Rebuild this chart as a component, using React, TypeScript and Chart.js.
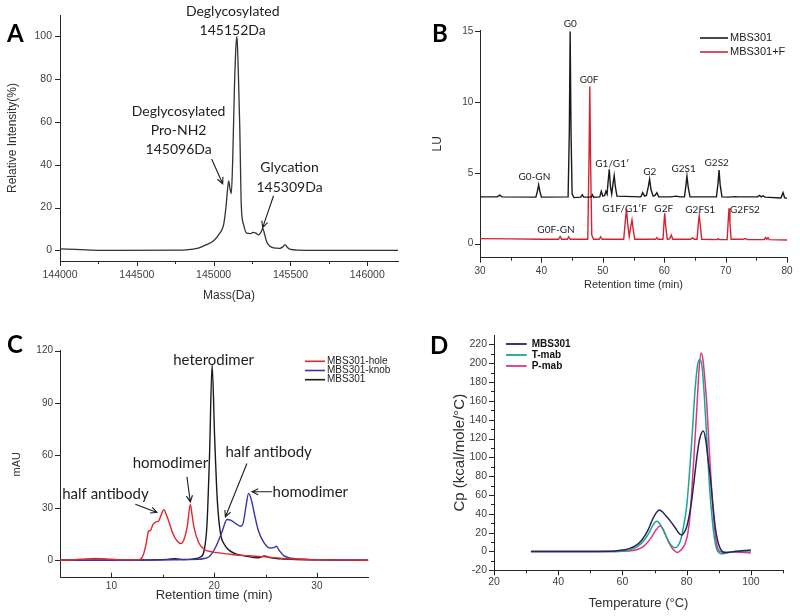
import React, { useEffect, useRef } from "react";
import { Chart, registerables } from "chart.js";

Chart.register(...registerables);

const SANS = "'Liberation Sans', Arial, sans-serif";
const LATO = "Lato, 'Open Sans', sans-serif";
const AXIS = "#262626";
const TICK = "#404040";
const TITLE = "#303030";
const ANNOT = "#1e1e1e";

type Pt = [number, number];

// ---------- Panel A: deconvoluted mass spectrum ----------
const massSpectrum: Pt[] = [
  [144000, 0.7], [144100, 0.4], [144200, 0.1], [144300, 0], [144800, 0.1], [144850, 0.4],
  [144900, 1], [144950, 2.5], [145000, 4.5], [145040, 8], [145065, 12], [145080, 20],
  [145090, 28], [145098, 32.5], [145106, 29], [145115, 26.5], [145124, 42], [145135, 75],
  [145145, 95], [145152, 100], [145160, 85], [145170, 58], [145180, 21], [145195, 12],
  [145215, 8], [145240, 7.8], [145256, 8.4], [145275, 8], [145292, 7.2], [145308, 8.5],
  [145320, 10.2], [145330, 8], [145345, 4], [145365, 2], [145390, 1.1], [145430, 0.9],
  [145450, 1.6], [145464, 2.7], [145478, 1.5], [145500, 0.4], [145600, 0], [146200, 0],
];
const massTicksX = [144000, 144500, 145000, 145500, 146000];
const massMinorX = [144250, 144750, 145250, 145750];
const massTicksY = [0, 20, 40, 60, 80, 100];
const massLabels = [
  { text: "Deglycosylated", x: 145124, y: 111.7 },
  { text: "145152Da", x: 145124, y: 102.8 },
  { text: "Deglycosylated", x: 144772, y: 65.1 },
  { text: "Pro-NH2", x: 144772, y: 55.8 },
  { text: "145096Da", x: 144772, y: 46.9 },
  { text: "Glycation", x: 145494, y: 38.5 },
  { text: "145309Da", x: 145494, y: 29.2 },
];
const massArrows = [
  { x1: 144987, y1: 42.7, x2: 145059, y2: 31.1 },
  { x1: 145390, y1: 25.5, x2: 145319, y2: 10.6 },
];

// ---------- Panel B: glycan profiles ----------
const glycanMBS301: Pt[] = [
  [30, 3.3], [32.8, 3.3], [33.2, 3.42], [33.6, 3.3], [39.1, 3.28], [39.35, 3.7], [39.55, 4.15],
  [39.75, 3.7], [40.0, 3.28], [44.35, 3.3], [44.55, 8], [44.68, 15], [44.82, 8], [45.0, 3.5],
  [45.3, 3.25], [46.4, 3.28], [46.65, 3.45], [46.9, 3.28], [48.1, 3.28], [48.3, 3.45], [48.5, 3.28],
  [49.5, 3.3], [49.75, 3.7], [50.0, 3.35], [50.3, 3.4], [50.5, 3.7], [50.7, 3.5], [50.85, 4.3],
  [51.05, 5.25], [51.25, 4.0], [51.45, 3.5], [51.65, 4.2], [51.85, 4.8], [52.05, 4.0], [52.3, 3.35],
  [56.2, 3.3], [56.5, 3.6], [56.8, 3.35], [57.1, 3.4], [57.4, 4.0], [57.62, 4.55], [57.85, 3.8],
  [58.2, 3.35], [58.5, 3.4], [58.8, 3.6], [59.1, 3.3], [61, 3.3], [62, 3.35], [62.5, 3.3],
  [63.3, 3.3], [63.5, 4.0], [63.7, 4.78], [63.9, 4.0], [64.2, 3.3], [68.5, 3.3], [68.75, 4.2],
  [68.93, 5.2], [69.1, 4.2], [69.4, 3.3], [70.5, 3.28], [71.5, 3.32], [72, 3.3], [75.2, 3.3],
  [75.5, 3.4], [75.8, 3.3], [76.1, 3.38], [76.4, 3.28], [79.0, 3.22], [79.35, 3.6], [79.6, 3.25],
  [80, 3.2],
];
const glycanMBS301F: Pt[] = [
  [30, 0.35], [35, 0.33], [40, 0.3], [42.8, 0.3], [43.05, 0.5], [43.3, 0.3], [44.2, 0.3],
  [44.45, 0.47], [44.7, 0.3], [47.55, 0.3], [47.75, 6], [47.88, 11.1], [48.0, 6], [48.2, 0.6],
  [48.5, 0.3], [49.4, 0.3], [49.65, 0.48], [49.9, 0.3], [53.4, 0.3], [53.65, 1.5], [53.85, 2.45],
  [54.05, 1.4], [54.3, 0.5], [54.55, 1.2], [54.75, 1.67], [54.95, 1.0], [55.2, 0.3], [58.6, 0.3],
  [58.8, 0.42], [59.0, 0.3], [59.8, 0.3], [59.95, 1.4], [60.08, 2.14], [60.22, 1.3], [60.5, 0.3],
  [60.9, 0.35], [61.15, 0.6], [61.4, 0.3], [64.3, 0.3], [64.6, 0.4], [64.9, 0.3], [65.35, 0.3],
  [65.55, 1.4], [65.7, 1.98], [65.85, 1.4], [66.1, 0.3], [68.6, 0.28], [68.8, 0.35], [69, 0.28],
  [70.25, 0.28], [70.42, 1.6], [70.55, 2.5], [70.7, 1.5], [70.9, 0.3], [72.8, 0.3], [73.2, 0.35],
  [73.6, 0.28], [76.3, 0.28], [76.5, 0.42], [76.7, 0.3], [76.9, 0.42], [77.1, 0.28], [80, 0.25],
];
const glycanSeries = ["MBS301", "MBS301+F"];
const glycanTicksX = [30, 40, 50, 60, 70, 80];
const glycanMinorX = [35, 45, 55, 65, 75];
const glycanTicksY = [0, 5, 10, 15];
const glycanPeaks = [
  { text: "G0", x: 44.69, y: 15.51 },
  { text: "G0F", x: 47.77, y: 11.61 },
  { text: "G0-GN", x: 38.86, y: 4.69 },
  { text: "G1/G1\u2032", x: 51.54, y: 5.61 },
  { text: "G2", x: 57.65, y: 5.08 },
  { text: "G2S1", x: 63.16, y: 5.32 },
  { text: "G2S2", x: 68.55, y: 5.68 },
  { text: "G0F-GN", x: 42.37, y: 0.97 },
  { text: "G1F/G1\u2032F", x: 53.55, y: 2.47 },
  { text: "G2F", x: 59.92, y: 2.45 },
  { text: "G2FS1", x: 65.86, y: 2.38 },
  { text: "G2FS2", x: 73.15, y: 2.38 },
];

// ---------- Panel C: SEC chromatograms ----------
const secHole: Pt[] = [
  [5, 0], [6.5, 0.3], [7.5, 0.8], [8.5, 1], [9.5, 0.8], [10.5, 0.3], [11.5, 0.2], [12.5, 0.3],
  [12.8, 0.5], [13.1, 3], [13.4, 10], [13.6, 16.5], [13.8, 17], [14.05, 20.5], [14.35, 22],
  [14.6, 22.5], [14.85, 26], [15.1, 29], [15.35, 26], [15.6, 22], [16.0, 15], [16.4, 11],
  [16.75, 9.6], [17.1, 12.5], [17.4, 20], [17.68, 32], [17.85, 26], [18.05, 18.5], [18.5, 10],
  [19.1, 6], [19.8, 4.8], [20.5, 4.2], [21.7, 3.3], [23.3, 2.6], [25, 1.9], [26.9, 1.0],
  [28.5, 0.6], [30, 0.3], [32, 0.2], [35, 0],
];
const secKnob: Pt[] = [
  [5, 0], [12, 0], [16, 0.3], [18.5, 0.5], [19, 1], [19.5, 2], [20.1, 7], [20.75, 16],
  [21.25, 23.3], [21.6, 23], [22.1, 21], [22.6, 19.5], [22.85, 22], [23.1, 31], [23.35, 38.3],
  [23.6, 35], [23.9, 27], [24.3, 17], [24.8, 10.5], [25.4, 7], [25.8, 7.2], [26.05, 8],
  [26.35, 5.5], [26.8, 2.5], [27.5, 1.2], [29, 0.5], [31, 0.2], [35, 0],
];
const secMBS301: Pt[] = [
  [5, 0], [14, 0.2], [15.5, 0.5], [16.2, 0.9], [17, 0.4], [18, 0.8], [18.7, 2], [19.0, 5],
  [19.3, 20], [19.55, 60], [19.8, 112], [20.05, 70], [20.3, 35], [20.6, 16], [21.0, 9],
  [21.5, 5.5], [22.2, 3.5], [23.2, 2.2], [24.3, 1.4], [24.9, 2.5], [25.4, 1.5], [26.5, 0.8],
  [28, 0.4], [30, 0.2], [35, 0],
];
const secSeries = ["MBS301-hole", "MBS301-knob", "MBS301"];
const secTicksX = [10, 20, 30];
const secMinorX = [15, 25];
const secTicksY = [0, 30, 60, 90, 120];
const secLabels = [
  { text: "heterodimer", x: 19.95, y: 114.3 },
  { text: "half antibody", x: 9.42, y: 37.7 },
  { text: "homodimer", x: 15.74, y: 55.4 },
  { text: "half antibody", x: 25.3, y: 62.1 },
  { text: "homodimer", x: 29.36, y: 39.2 },
];
const secArrows = [
  { x1: 12.33, y1: 32.1, x2: 14.44, y2: 27.4 },
  { x1: 17.35, y1: 47.8, x2: 17.68, y2: 33.4 },
  { x1: 23.19, y1: 55.4, x2: 21.09, y2: 24.8 },
  { x1: 25.62, y1: 39.2, x2: 23.68, y2: 39.2 },
];

// ---------- Panel D: DSC thermograms ----------
const dscMBS301: Pt[] = [
  [31.5, 0], [45, 0], [57, 0.3], [60, 1.5], [62, 3], [64, 6], [66, 12], [68, 23], [69.5, 35],
  [70.5, 41], [71.5, 44], [72.5, 42], [73.5, 38], [75, 32], [76.5, 25], [77.8, 18.5], [78.5, 17.5],
  [79.2, 20], [80, 26], [80.8, 38], [81.6, 55], [82.4, 78], [83.2, 101], [84, 119], [85.2, 128],
  [86, 117], [86.7, 97], [87.3, 81], [88.1, 52], [88.9, 26], [89.6, 12], [90.4, 3.5], [91.3, -0.5],
  [92.5, -1], [95, 0], [98, 1], [100, 1.5],
];
const dscTmab: Pt[] = [
  [31.5, 0], [45, 0], [58, 0], [61, 1], [63, 2.5], [65, 6], [67, 13], [68.5, 21], [69.5, 28],
  [70.7, 32], [71.5, 30], [72.5, 24], [73.5, 17], [74.5, 10], [75.5, 5.5], [76.4, 4], [77.3, 6],
  [78.2, 13], [79, 26], [80, 48], [80.8, 80], [81.6, 118], [82.6, 171], [83.4, 198], [84.1, 204],
  [84.8, 196], [85.5, 165], [86.3, 118], [87, 75], [87.8, 40], [88.6, 15], [89.4, 2], [90.3, -2],
  [91.2, -2.5], [92.5, -1.5], [95, 0], [100, 0.5],
];
const dscPmab: Pt[] = [
  [31.5, 0], [45, 0], [58, 0], [62, 0.5], [64, 1.5], [66, 4], [67.5, 8.5], [69, 15], [70.5, 23],
  [71.7, 27], [72.6, 24], [73.5, 17], [74.5, 9], [75.5, 3.5], [76.3, 0.5], [77.1, -1], [77.9, 0.5],
  [78.8, 4], [79.6, 9], [80.4, 20], [81.1, 40], [81.6, 65], [82.4, 108], [83.2, 154], [83.9, 195],
  [84.5, 211], [85.1, 203], [85.7, 181], [86.3, 155], [87, 110], [87.8, 65], [88.6, 28], [89.4, 7],
  [90.3, 0], [91.5, -1], [95, -0.5], [100, -1.5],
];
const dscSeries = ["MBS301", "T-mab", "P-mab"];
const dscTicksX = [20, 40, 60, 80, 100];
const dscMinorX = [30, 50, 70, 90, 110];
const dscTicksY = [-20, 0, 20, 40, 60, 80, 100, 120, 140, 160, 180, 200, 220];
const dscMinorY = [-10, 10, 30, 50, 70, 90, 110, 130, 150, 170, 190, 210];

// ---------- helpers ----------
const toXY = (pts: Pt[]) => pts.map(([x, y]) => ({ x, y }));

const decorPlugin = {
  id: "decor",
  afterDraw(chart: any, _a: any, o: any) {
    if (!o) return;
    const { ctx } = chart;
    const xs = chart.scales.x;
    const ys = chart.scales.y;
    ctx.save();
    ctx.strokeStyle = AXIS;
    ctx.lineWidth = 1;
    const xDir = o.xDir ?? 1;
    const yDir = o.yDir ?? 1;
    const tx = (vals: number[], len: number) => {
      for (const v of vals || []) {
        const px = Math.round(xs.getPixelForValue(v)) + 0.5;
        ctx.beginPath();
        ctx.moveTo(px, xs.top);
        ctx.lineTo(px, xs.top + xDir * len);
        ctx.stroke();
      }
    };
    const ty = (vals: number[], len: number) => {
      for (const v of vals || []) {
        const py = Math.round(ys.getPixelForValue(v)) + 0.5;
        ctx.beginPath();
        ctx.moveTo(ys.right, py);
        ctx.lineTo(ys.right - yDir * len, py);
        ctx.stroke();
      }
    };
    tx(o.xMajor, 5);
    tx(o.xMinor, 3);
    ty(o.yMajor, 5);
    ty(o.yMinor, 3);

    // annotations
    ctx.fillStyle = ANNOT;
    ctx.textAlign = "center";
    ctx.textBaseline = "middle";
    ctx.font = `${o.labelSize || 14}px ${LATO}`;
    for (const t of o.labels || []) {
      ctx.fillText(t.text, xs.getPixelForValue(t.x), ys.getPixelForValue(t.y));
    }
    ctx.strokeStyle = ANNOT;
    ctx.lineWidth = 1.1;
    for (const a of o.arrows || []) {
      const x1 = xs.getPixelForValue(a.x1), y1 = ys.getPixelForValue(a.y1);
      const x2 = xs.getPixelForValue(a.x2), y2 = ys.getPixelForValue(a.y2);
      const ang = Math.atan2(y2 - y1, x2 - x1);
      const h = 7;
      ctx.beginPath();
      ctx.moveTo(x1, y1);
      ctx.lineTo(x2, y2);
      ctx.moveTo(x2 - h * Math.cos(ang - 0.45), y2 - h * Math.sin(ang - 0.45));
      ctx.lineTo(x2, y2);
      ctx.lineTo(x2 - h * Math.cos(ang + 0.45), y2 - h * Math.sin(ang + 0.45));
      ctx.stroke();
    }

    // legend
    if (o.legend) {
      const L = o.legend;
      ctx.textAlign = "left";
      ctx.textBaseline = "middle";
      ctx.font = L.font;
      L.items.forEach((label: string, i: number) => {
        const y = L.y0 + i * L.dy;
        ctx.strokeStyle = L.colors[i];
        ctx.lineWidth = L.lineWidth;
        ctx.beginPath();
        ctx.moveTo(L.x0, y);
        ctx.lineTo(L.x1, y);
        ctx.stroke();
        ctx.fillStyle = L.textColor;
        ctx.fillText(label, L.tx, y);
      });
    }

    // panel letter
    if (o.letter) {
      ctx.fillStyle = "#000";
      ctx.textAlign = "left";
      ctx.textBaseline = "alphabetic";
      ctx.font = `bold 24px ${LATO}`;
      ctx.fillText(o.letter.text, o.letter.x, o.letter.y);
    }
    ctx.restore();
  },
};

function axis(o: {
  min: number; max: number; ticks: number[]; size: number; horizontal: boolean;
  title: string; titleSize: number; titlePad: number; tickSize: number; tickPad: number;
}) {
  return {
    type: "linear",
    min: o.min,
    max: o.max,
    afterBuildTicks: (s: any) => {
      s.ticks = o.ticks.map((v) => ({ value: v }));
    },
    afterFit: (s: any) => {
      if (o.horizontal) s.height = o.size;
      else s.width = o.size;
    },
    grid: { display: false, drawTicks: false, drawOnChartArea: false },
    border: { display: true, color: AXIS, width: 1 },
    ticks: {
      autoSkip: false,
      maxRotation: 0,
      minRotation: 0,
      padding: o.tickPad,
      color: TICK,
      font: { family: SANS, size: o.tickSize },
      callback: (v: any) => String(v),
    },
    title: {
      display: true,
      text: o.title,
      color: TITLE,
      font: { family: SANS, size: o.titleSize },
      padding: o.horizontal ? { top: 0, bottom: o.titlePad } : { top: o.titlePad, bottom: 0 },
    },
  };
}

function lineDs(label: string, pts: Pt[], color: string, width: number, smooth: boolean) {
  return {
    label,
    data: toXY(pts),
    borderColor: color,
    backgroundColor: color,
    borderWidth: width,
    pointRadius: 0,
    fill: false,
    tension: smooth ? 0.4 : 0,
    cubicInterpolationMode: smooth ? "monotone" : "default",
  };
}

function makeConfig(datasets: any[], padding: any, x: any, y: any, decor: any) {
  return {
    type: "line",
    data: { datasets },
    options: {
      responsive: false,
      maintainAspectRatio: false,
      animation: false,
      events: [],
      layout: { padding },
      plugins: { legend: { display: false }, tooltip: { enabled: false }, decor },
      scales: { x, y },
    },
    plugins: [decorPlugin],
  };
}

const BLACK = "#1a1a1a";
const RED_B = "#d42232";
const RED_C = "#e3262c";
const BLUE_C = "#3634a6";
const NAVY = "#24245e";
const TEAL = "#1ba597";
const PINK = "#e4327e";

function buildA() {
  return makeConfig(
    [lineDs("Mass", massSpectrum, "#333333", 1.3, true)],
    { left: 0, right: 2, top: 15, bottom: 4 },
    axis({ min: 144000, max: 146200, ticks: massTicksX, size: 43, horizontal: true, title: "Mass(Da)", titleSize: 12, titlePad: 0.8, tickSize: 10.5, tickPad: 7.7 }),
    axis({ min: -5, max: 110, ticks: massTicksY, size: 60, horizontal: false, title: "Relative Intensity(%)", titleSize: 12, titlePad: 5.8, tickSize: 10.5, tickPad: 8 }),
    {
      xMajor: massTicksX, xMinor: massMinorX, yMajor: massTicksY,
      labels: massLabels, labelSize: 14, arrows: massArrows,
      letter: { text: "A", x: 7, y: 42 },
    }
  );
}

function buildB() {
  return makeConfig(
    [
      lineDs(glycanSeries[0], glycanMBS301, BLACK, 1.4, false),
      lineDs(glycanSeries[1], glycanMBS301F, RED_B, 1.4, false),
    ],
    { left: 0, right: 11, top: 30, bottom: 4 },
    axis({ min: 30, max: 80, ticks: glycanTicksX, size: 46.3, horizontal: true, title: "Retention time (min)", titleSize: 11, titlePad: 12.4, tickSize: 10, tickPad: 7.4 }),
    axis({ min: -1, max: 15.1, ticks: glycanTicksY, size: 80, horizontal: false, title: "LU", titleSize: 12, titlePad: 30.8, tickSize: 10, tickPad: 6.7 }),
    {
      xMajor: glycanTicksX, xMinor: glycanMinorX, yMajor: glycanTicksY,
      labels: glycanPeaks, labelSize: 10,
      legend: { items: glycanSeries, colors: [BLACK, RED_B], x0: 300, x1: 328, tx: 330, y0: 38, dy: 14, font: `11px ${SANS}`, lineWidth: 1.6, textColor: "#222" },
      letter: { text: "B", x: 32, y: 42 },
    }
  );
}

function buildC() {
  return makeConfig(
    [
      lineDs(secSeries[0], secHole, RED_C, 1.4, true),
      lineDs(secSeries[1], secKnob, BLUE_C, 1.4, true),
      lineDs(secSeries[2], secMBS301, BLACK, 1.4, true),
    ],
    { left: 0, right: 31.7, top: 42.7, bottom: 4 },
    axis({ min: 5, max: 35, ticks: secTicksX, size: 34.3, horizontal: true, title: "Retention time (min)", titleSize: 13, titlePad: 9.2, tickSize: 10, tickPad: 3 }),
    axis({ min: -10, max: 120, ticks: secTicksY, size: 60, horizontal: false, title: "mAU", titleSize: 11, titlePad: 10.4, tickSize: 10, tickPad: 7 }),
    {
      xDir: -1, xMajor: secTicksX, xMinor: secMinorX, yMajor: secTicksY,
      labels: secLabels, labelSize: 15, arrows: secArrows,
      legend: { items: secSeries, colors: [RED_C, BLUE_C, BLACK], x0: 305, x1: 325, tx: 327, y0: 53.3, dy: 9.2, font: `10px ${SANS}`, lineWidth: 1.6, textColor: "#222" },
      letter: { text: "C", x: 7, y: 45 },
    }
  );
}

function buildD() {
  return makeConfig(
    [
      lineDs(dscSeries[0], dscMBS301, NAVY, 1.5, true),
      lineDs(dscSeries[1], dscTmab, TEAL, 1.5, true),
      lineDs(dscSeries[2], dscPmab, PINK, 1.5, true),
    ],
    { left: 0, right: 17, top: 27, bottom: 2 },
    axis({ min: 20, max: 110, ticks: dscTicksX, size: 43.7, horizontal: true, title: "Temperature (\u00B0C)", titleSize: 13, titlePad: 2.9, tickSize: 10.5, tickPad: 5.8 }),
    axis({ min: -20, max: 230, ticks: dscTicksY, size: 94, horizontal: false, title: "Cp (kcal/mole/\u00B0C)", titleSize: 15, titlePad: 51, tickSize: 10.5, tickPad: 7 }),
    {
      xMajor: dscTicksX, xMinor: dscMinorX, yMajor: dscTicksY, yMinor: dscMinorY,
      legend: { items: dscSeries, colors: [NAVY, TEAL, PINK], x0: 106, x1: 126.7, tx: 131.7, y0: 36, dy: 11, font: `bold 10px ${SANS}`, lineWidth: 1.8, textColor: "#111" },
      letter: { text: "D", x: 30, y: 46 },
    }
  );
}

function Panel({ left, top, build }: { left: number; top: number; build: () => any }) {
  const ref = useRef<HTMLCanvasElement>(null);
  useEffect(() => {
    const chart = new Chart(ref.current as HTMLCanvasElement, build());
    return () => chart.destroy();
  }, [build]);
  return (
    <canvas
      ref={ref}
      width={400}
      height={308}
      style={{ position: "absolute", left, top, width: 400, height: 308 }}
    />
  );
}

export default function App() {
  return (
    <div style={{ position: "absolute", left: 0, top: 0, width: 800, height: 616, background: "#fff", overflow: "hidden" }}>
      <Panel left={0} top={0} build={buildA} />
      <Panel left={400} top={0} build={buildB} />
      <Panel left={0} top={308} build={buildC} />
      <Panel left={400} top={308} build={buildD} />
    </div>
  );
}
